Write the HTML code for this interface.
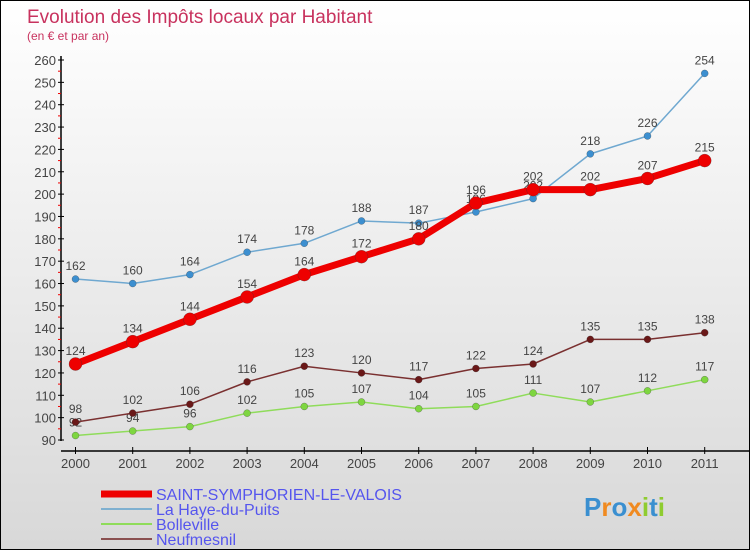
<!DOCTYPE html>
<html><head><meta charset="utf-8"><style>
body{margin:0}
#c{width:748px;height:548px;border:1px solid #000;background:linear-gradient(#fff,#d8d8d8);position:relative;font-family:"Liberation Sans",sans-serif}
</style></head><body>
<div id="c">
<svg id="s" width="748" height="548"></svg>
</div>
<script>
const years=[2000,2001,2002,2003,2004,2005,2006,2007,2008,2009,2010,2011];
const yTicks=[90,100,110,120,130,140,150,160,170,180,190,200,210,220,230,240,250,260];
const saint=[124,134,144,154,164,172,180,196,202,202,207,215];
const haye=[162,160,164,174,178,188,187,192,198,218,226,254];
const bolle=[92,94,96,102,105,107,104,105,111,107,112,117];
const neuf=[98,102,106,116,123,120,117,122,124,135,135,138];
const hayeLbl=[162,160,164,174,178,188,187,196,202,218,226,254];
const NS='http://www.w3.org/2000/svg';
const s=document.getElementById('s');
const X=i=>74.5+i*57.2;
const Y=v=>439-(v-90)*380/170;
function el(t,a,p){const e=document.createElementNS(NS,t);for(const k in a)e.setAttribute(k,a[k]);(p||s).appendChild(e);return e;}
function tx(x,y,str,a){const e=el('text',Object.assign({x:x,y:y},a));e.textContent=str;return e;}
let t=tx(26,22,'Evolution des Impôts locaux par Habitant',{fill:'#c8325e','font-size':19});

t=tx(26,39,'(en € et par an)',{fill:'#c8325e','font-size':12});

let ax=el('line',{x1:60,y1:55,x2:60,y2:440,stroke:'#000','stroke-width':1.5});

yTicks.forEach(v=>{el('line',{x1:57,x2:63,y1:Y(v),y2:Y(v),stroke:'#000'});
 if(v<260)el('line',{x1:57,x2:60,y1:Y(v+5),y2:Y(v+5),stroke:'#e00'});
 const l=tx(55,Y(v)+5,v,{fill:'#444','font-size':13,'text-anchor':'end'});
 });
ax=el('line',{x1:60,y1:450,x2:748,y2:450,stroke:'#000','stroke-width':1.5});

years.forEach((y,i)=>{el('line',{x1:X(i),x2:X(i),y1:446,y2:453,stroke:'#000'});
 const l=tx(X(i),467,y,{fill:'#444','font-size':13,'text-anchor':'middle'});
 });
function series(d,lbl,col,w,r,dot,name){
 const pl=el('polyline',{points:d.map((v,i)=>X(i)+','+Y(v)).join(' '),fill:'none',stroke:col,'stroke-width':w,'stroke-linejoin':'round'});
 
 d.forEach((v,i)=>{const c=el('circle',{cx:X(i),cy:Y(v),r:r,fill:dot,stroke:'#3338','stroke-width':0.5});
 
 const l=tx(X(i),Y(v)-9,lbl[i],{fill:'#444','font-size':12,'text-anchor':'middle'});
 });
}
series(haye,hayeLbl,'#6fa8d0',1.5,3.5,'#3c8fd0','la-haye-du-puits');
series(bolle,bolle,'#8fdc5a',1.5,3.5,'#7ed640','bolleville');
series(neuf,neuf,'#7a3030',1.5,3.5,'#6a1818','neufmesnil');
series(saint,saint,'#ee0000',7,6.5,'#ee0000','saint-symphorien');
const leg=[['SAINT-SYMPHORIEN-LE-VALOIS','#ee0000',7,493],['La Haye-du-Puits','#7fb0d0',2,508],['Bolleville','#8fdc5a',2,523],['Neufmesnil','#8a5050',2,538]];
leg.forEach(([n,c,w,y])=>{const g=el('g',{});
 el('line',{x1:100,x2:151,y1:y,y2:y,stroke:c,'stroke-width':w},g);
 tx(155,y+6,n,{fill:'#5555ee','font-size':16},g);});
const lg=tx(583,515,'',{'font-size':26,'font-weight':'bold'});

[['P','#3a8fd0'],['r','#f08a20'],['o','#3a8fd0'],['x','#f08a20'],['i','#8fcc30'],['t','#3a8fd0'],['i','#8fcc30']].forEach(([ch,c])=>{const ts=el('tspan',{fill:c},lg);ts.textContent=ch;});
</script>
</body></html>
